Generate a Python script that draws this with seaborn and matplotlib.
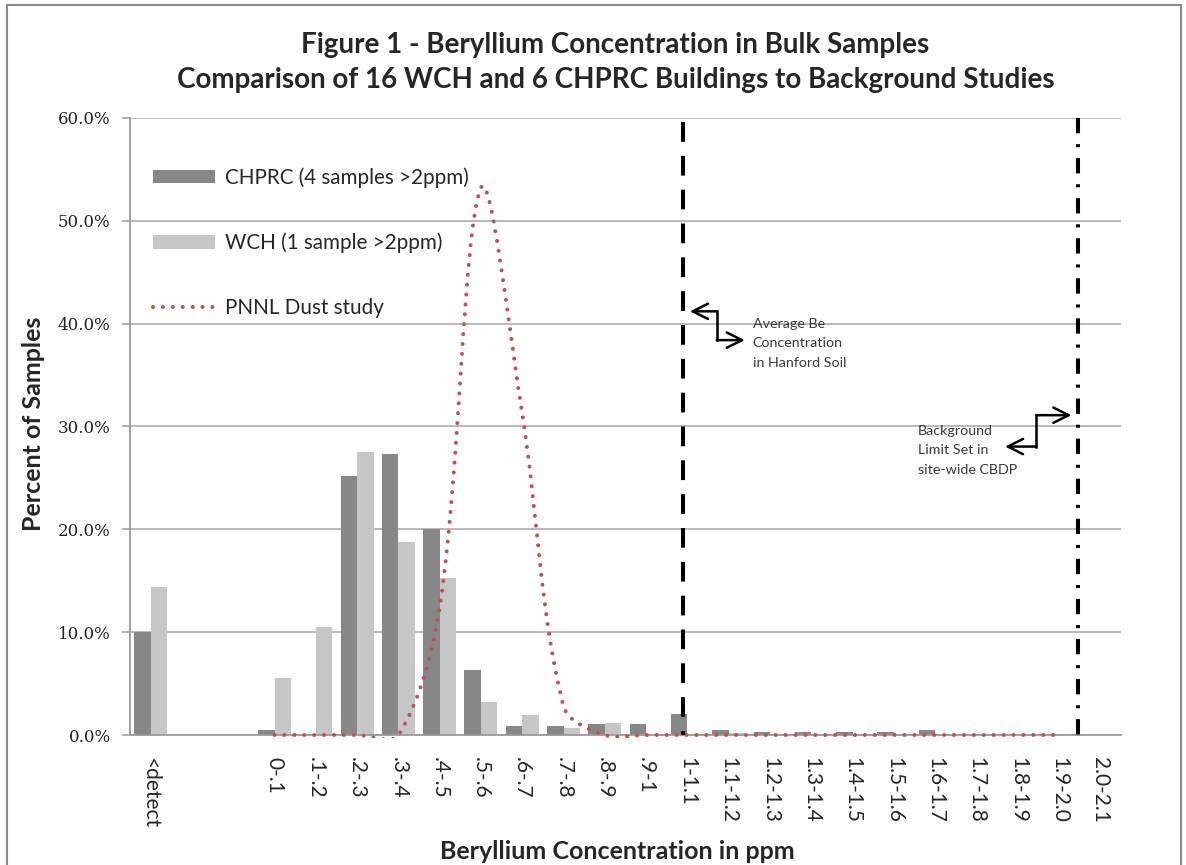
import numpy as np
import pandas as pd
import matplotlib
matplotlib.use("Agg")
import matplotlib.pyplot as plt
import seaborn as sns
from matplotlib.path import Path
from matplotlib.patches import PathPatch, Patch, Rectangle
from matplotlib.lines import Line2D
from matplotlib.ticker import FixedLocator, FuncFormatter

# ---------------- data ----------------
categories = ["<detect", "", " ", "0-.1", ".1-.2", ".2-.3", ".3-.4", ".4-.5", ".5-.6",
              ".6-.7", ".7-.8", ".8-.9", ".9-1", "1-1.1", "1.1-1.2", "1.2-1.3", "1.3-1.4",
              "1.4-1.5", "1.5-1.6", "1.6-1.7", "1.7-1.8", "1.8-1.9", "1.9-2.0", "2.0-2.1"]
chprc = [10.0, 0, 0, 0.5, 0.0, 25.2, 27.3, 20.0, 6.3, 0.9, 0.9, 1.1, 1.1, 2.0,
         0.5, 0.27, 0.27, 0.27, 0.27, 0.5, 0, 0, 0, 0]
wch = [14.4, 0, 0, 5.5, 10.5, 27.5, 18.8, 15.3, 3.2, 1.9, 0.65, 1.2, 0, 0,
       0.15, 0, 0, 0, 0, 0, 0, 0, 0, 0]
pnnl_categories = categories[3:23]
pnnl = [0, 0, 0, 0, 12.4, 53.2, 31.2, 2.8, 0, 0, 0, 0, 0, 0, 0, 0, 0, 0, 0, 0]
series_names = ["CHPRC (4 samples >2ppm)", "WCH (1 sample >2ppm)", "PNNL Dust study"]
hanford_avg_ppm = 1.04      # average Be concentration in Hanford soil
cbdp_limit_ppm = 1.995      # background limit set in site-wide CBDP
y_ticks = [0, 10, 20, 30, 40, 50, 60]

# ---------------- style ----------------
sns.set_style("white")
plt.rcParams["font.family"] = ["Lato", "DejaVu Sans"]

C_DARK = "#878787"
C_LIGHT = "#c6c6c6"
C_RED = "#c0504d"
C_GRID = "#a6a6a6"
C_AXIS = "#9a9a9a"

W, H = 1186, 865
fig = plt.figure(figsize=(W / 100, H / 100), dpi=100)
ax = fig.add_axes([130 / W, 1 - 735 / H, (1121 - 130) / W, (735 - 118) / H])

df = pd.DataFrame({
    "category": categories * 2,
    "series": [series_names[0]] * len(categories) + [series_names[1]] * len(categories),
    "value": chprc + wch,
})
sns.barplot(data=df, x="category", y="value", hue="series", order=categories,
            hue_order=series_names[:2], palette=[C_DARK, C_LIGHT], saturation=1,
            errorbar=None, width=0.8, linewidth=0, ax=ax, legend=False)

ax.set_xlim(-0.5, len(categories) - 0.5)
ax.set_ylim(0, 60)
ax.set_axisbelow(True)

# grid / spines
ax.yaxis.set_major_locator(FixedLocator(y_ticks))
ax.yaxis.set_major_formatter(FuncFormatter(lambda v, p: f"{v:.1f}%"))
ax.grid(axis="y", color=C_GRID, lw=1.1)
ax.grid(axis="x", visible=False)
for s in ["top", "right"]:
    ax.spines[s].set_visible(False)
for s in ["left", "bottom"]:
    ax.spines[s].set_color(C_AXIS)
    ax.spines[s].set_linewidth(1.3)

ax.set_xticks(range(len(categories)))
ax.set_xticklabels(categories, rotation=-90, fontsize=15, va="top", ha="center")
ax.xaxis.set_minor_locator(FixedLocator(np.arange(-0.5, len(categories), 1.0)))
ax.tick_params(axis="x", which="major", length=0, pad=16)
ax.tick_params(axis="x", which="minor", length=6, color=C_AXIS, width=1.1, direction="out")
ax.tick_params(axis="y", which="major", length=6, color=C_AXIS, width=1.1, pad=8,
               direction="out", left=True)
for lab in ax.get_yticklabels():
    lab.set_fontfamily(["DejaVu Serif"])
    lab.set_fontsize(12)
    lab.set_color("#222222")

ax.set_xlabel("Beryllium Concentration in ppm", fontsize=18, fontweight="bold")
ax.set_ylabel("Percent of Samples", fontsize=18, fontweight="bold")
ax.xaxis.set_label_coords(0.492, -0.170)
ax.yaxis.set_label_coords(-0.086, 0.505)

# ---------------- PNNL smoothed line ----------------
px = np.array([categories.index(c) for c in pnnl_categories], dtype=float)
py = np.array(pnnl, dtype=float)
P = ax.transData.transform(np.column_stack([px, py]))
n = len(P)
verts = [P[0]]
codes = [Path.MOVETO]
tension = 1 / 3
for i in range(n - 1):
    p0 = P[i - 1] if i > 0 else P[i]
    p1 = P[i]
    p2 = P[i + 1]
    p3 = P[i + 2] if i + 2 < n else P[i + 1]
    d01 = np.hypot(*(p1 - p0)); d12 = np.hypot(*(p2 - p1)); d23 = np.hypot(*(p3 - p2))
    fb1 = tension * d12 / (d01 + d12) if (d01 + d12) > 0 else 0
    fa2 = tension * d12 / (d12 + d23) if (d12 + d23) > 0 else 0
    c1 = p1 + fb1 * (p2 - p0)
    c2 = p2 - fa2 * (p3 - p1)
    verts += [c1, c2, p2]
    codes += [Path.CURVE4] * 3
verts = ax.transData.inverted().transform(np.array(verts))
curve = PathPatch(Path(verts, codes), transform=ax.transData, fill=False,
                  edgecolor=C_RED, lw=2.9, linestyle=(0, (0.01, 2.45)), zorder=4)
curve.set_capstyle("round")
ax.add_patch(curve)
clip = Rectangle((-0.5, -0.3), len(categories), 61, transform=ax.transData)
curve.set_clip_path(clip)

# ---------------- reference lines ----------------
def ppm_to_pos(ppm):
    return categories.index("0-.1") - 0.5 + ppm * 10

ax.plot([ppm_to_pos(hanford_avg_ppm)] * 2, [59.6, 0], color="black", lw=2.9,
        linestyle=(0, (4.9, 3.5)), zorder=5, solid_capstyle="butt")
ax.plot([ppm_to_pos(cbdp_limit_ppm)] * 2, [60, 0], color="black", lw=2.9,
        linestyle=(0, (3.8, 2.7, 0.75, 2.7)), zorder=5, clip_on=False)

# ---------------- annotations ----------------
def elbow(points):
    (a, b, c, d) = points
    ax.plot([b[0], c[0]], [b[1], c[1]], color="black", lw=1.8, zorder=6,
            solid_capstyle="projecting")
    style = "->,head_length=1.1,head_width=0.55"
    ax.annotate("", xy=a, xytext=b, arrowprops=dict(arrowstyle=style, lw=1.8, color="black",
                shrinkA=0, shrinkB=0), zorder=6)
    ax.annotate("", xy=d, xytext=c, arrowprops=dict(arrowstyle=style, lw=1.8, color="black",
                shrinkA=0, shrinkB=0), zorder=6)

elbow([(13.06, 41.2), (13.71, 41.2), (13.71, 38.4), (14.39, 38.4)])
elbow([(22.30, 31.1), (21.45, 31.1), (21.45, 28.05), (20.69, 28.05)])

for txt, yy in zip(["Average Be", "Concentration", "in Hanford Soil"], [40.0, 38.1, 36.2]):
    ax.text(14.58, yy, txt, fontsize=10.3, color="#3a3a3a", ha="left", va="center", zorder=6)
for txt, yy in zip(["Background", "Limit Set in", "site-wide CBDP"], [29.6, 27.7, 25.8]):
    ax.text(18.58, yy, txt, fontsize=10.3, color="#3a3a3a", ha="left", va="center", zorder=6)

# ---------------- legend ----------------
handles = [Patch(facecolor=C_DARK, edgecolor="none"),
           Patch(facecolor=C_LIGHT, edgecolor="none"),
           Line2D([], [], color=C_RED, lw=2.9, linestyle=(0, (0.01, 2.45)),
                  dash_capstyle="round")]
fs = 14.9
fpx = fs * 100 / 72
fig.legend(handles, series_names, loc="upper left", frameon=False, fontsize=fs,
           bbox_to_anchor=(153 / W, 1 - 167 / H), bbox_transform=fig.transFigure,
           borderpad=0, borderaxespad=0, handlelength=62 / fpx, handleheight=13 / fpx,
           handletextpad=10 / fpx, labelspacing=2.17)

# ---------------- title & frame ----------------
fig.text(615 / W, 1 - 45 / H, "Figure 1 - Beryllium Concentration in Bulk Samples",
         ha="center", va="center", fontsize=20, fontweight="bold")
fig.text(616 / W, 1 - 80 / H, "Comparison of 16 WCH and 6 CHPRC Buildings to Background Studies",
         ha="center", va="center", fontsize=20, fontweight="bold")
fig.patches.append(Rectangle((7 / W, -0.05), (1181 - 7) / W, 1.05 - 5 / H,
                             transform=fig.transFigure, fill=False,
                             edgecolor="#8a8a8a", lw=1.5))

fig.savefig("out.png", dpi=100)
